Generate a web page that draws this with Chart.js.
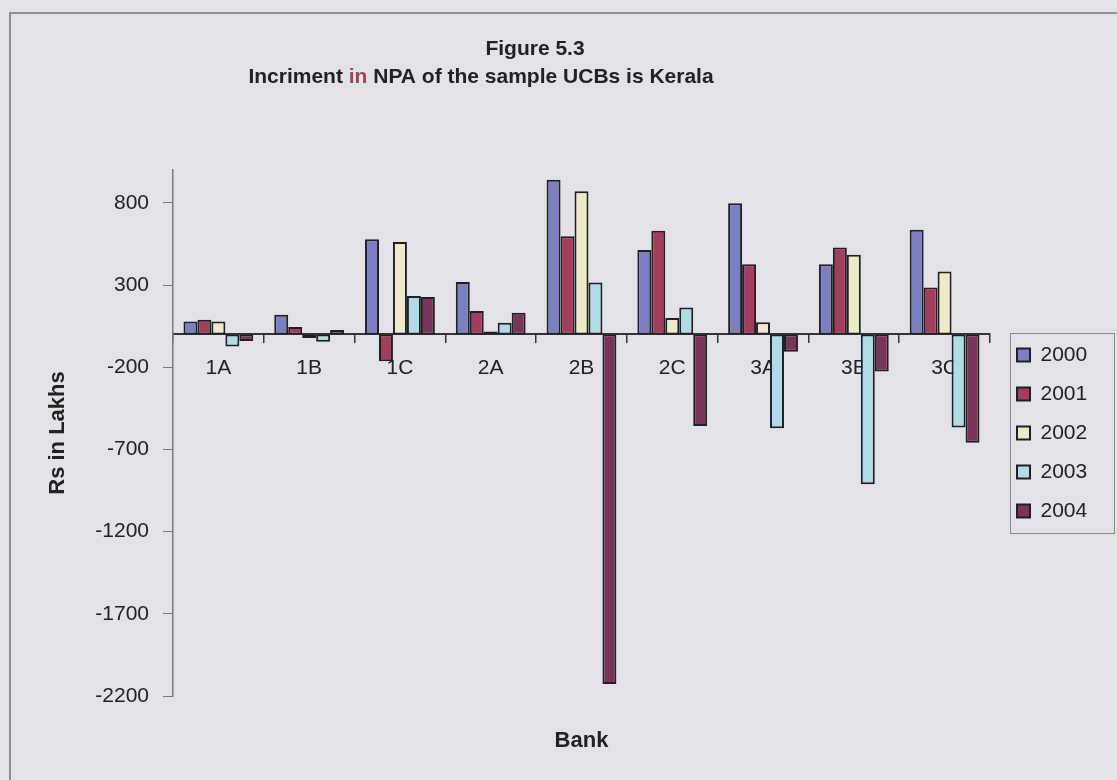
<!DOCTYPE html>
<html>
<head>
<meta charset="utf-8">
<title>Figure 5.3</title>
<script src="https://cdn.jsdelivr.net/npm/chart.js@4.4.1/dist/chart.umd.min.js"></script>
<style>
  html, body { margin: 0; padding: 0; background: #e2e2e7; }
  canvas { display: block; }
</style>
</head>
<body>
<canvas id="npaChart" width="1117" height="780"></canvas>
<script>
// Banks (categories) and years (series)
const banks = ['1A', '1B', '1C', '2A', '2B', '2C', '3A', '3B', '3C'];
const years = ['2000', '2001', '2002', '2003', '2004'];

// Increment in NPA, Rs in Lakhs
const npa2000 = [78, 120, 578, 318, 940, 514, 798, 427, 636];
const npa2001 = [89, 45, -163, 142, 597, 630, 427, 528, 285];
const npa2002 = [79, -22, 562, 18, 870, 99, 74, 484, 382];
const npa2003 = [-74, -45, 233, 71, 315, 163, -571, -912, -567];
const npa2004 = [-40, 26, 227, 132, -2127, -558, -105, -226, -659];

// Value axis labels
const yTickValues = [800, 300, -200, -700, -1200, -1700, -2200];

const seriesValues = [npa2000, npa2001, npa2002, npa2003, npa2004];
const seriesColors = ['#7b80c0', '#a23d5c', '#eeeac9', '#b0dcea', '#7a3458'];

const FONT = '"Liberation Sans", Arial, sans-serif';
const INK = '#222222';

// Paper background with the frame line
const paper = {
  id: 'paper',
  beforeDraw(chart) {
    const { ctx, width, height } = chart;
    ctx.save();
    ctx.fillStyle = '#e2e2e7';
    ctx.fillRect(0, 0, width, height);
    ctx.strokeStyle = '#8e8e93';
    ctx.lineWidth = 2;
    ctx.strokeRect(10, 13, width + 20, height + 20);
    ctx.restore();
  }
};

// Two-line heading
const heading = {
  id: 'heading',
  afterDraw(chart) {
    const ctx = chart.ctx;
    ctx.save();
    ctx.font = 'bold 21px ' + FONT;
    ctx.textBaseline = 'middle';
    ctx.textAlign = 'center';
    ctx.fillStyle = INK;
    ctx.fillText('Figure 5.3', 535, 49);
    const parts = [
      ['Incriment ', INK],
      ['in', '#9a4852'],
      [' NPA of the sample UCBs is Kerala', INK]
    ];
    const total = parts.reduce((s, p) => s + ctx.measureText(p[0]).width, 0);
    let x = 481 - total / 2;
    ctx.textAlign = 'left';
    for (const [text, color] of parts) {
      ctx.fillStyle = color;
      ctx.fillText(text, x, 77);
      x += ctx.measureText(text).width;
    }
    ctx.restore();
  }
};

// Thin frame round the legend
const legendFrame = {
  id: 'legendFrame',
  afterDraw(chart) {
    const lg = chart.legend;
    const hb = lg && lg.legendHitBoxes;
    if (!hb || !hb.length) return;
    const first = hb[0];
    const last = hb[hb.length - 1];
    const x0 = Math.round(first.left - 7) + 0.5;
    const y0 = Math.round(first.top - 11.5) + 0.5;
    const y1 = Math.round(last.top + last.height + 11.5) + 0.5;
    const x1 = Math.round(lg.right + 17) + 0.5;
    const ctx = chart.ctx;
    ctx.save();
    ctx.strokeStyle = '#8a8a8e';
    ctx.lineWidth = 1;
    ctx.strokeRect(x0, y0, x1 - x0, y1 - y0);
    ctx.restore();
  }
};

const datasets = years.map((yr, i) => ({
  label: yr,
  data: seriesValues[i],
  backgroundColor: seriesColors[i],
  borderColor: '#1f1f24',
  borderWidth: 2,
  borderSkipped: false,
  categoryPercentage: 5 / 6.5,
  barPercentage: 1.0,
  xAxisID: 'x',
  yAxisID: 'y'
}));

new Chart(document.getElementById('npaChart'), {
  type: 'bar',
  data: { labels: banks, datasets },
  plugins: [paper, heading, legendFrame],
  options: {
    responsive: false,
    animation: false,
    devicePixelRatio: 1,
    layout: { padding: { top: 170, bottom: 25.8, left: 0, right: 19.8 } },
    plugins: {
      title: { display: false },
      tooltip: { enabled: false },
      legend: {
        display: true,
        position: 'right',
        align: 'center',
        fullSize: false,
        labels: {
          boxWidth: 13,
          boxHeight: 13,
          padding: 18,
          color: INK,
          font: { family: FONT, size: 21 }
        }
      }
    },
    scales: {
      x: {
        type: 'category',
        position: { y: 0 },
        offset: true,
        grid: {
          display: true,
          offset: true,
          drawOnChartArea: false,
          drawTicks: true,
          tickLength: 8,
          color: '#333338',
          lineWidth: 1.5
        },
        border: { display: true, color: '#333338', width: 2 },
        ticks: {
          autoSkip: false,
          maxRotation: 0,
          padding: 13,
          color: INK,
          font: { family: FONT, size: 21 }
        }
      },
      xTitle: {
        type: 'category',
        position: 'bottom',
        grid: { display: false, drawTicks: false },
        border: { display: false },
        ticks: { display: false },
        title: {
          display: true,
          text: 'Bank',
          color: INK,
          font: { family: FONT, size: 22, weight: 'bold' },
          padding: { top: 31.8, bottom: 0 }
        }
      },
      y: {
        type: 'linear',
        position: 'left',
        min: -2200,
        max: 1000,
        afterBuildTicks: (scale) => {
          scale.ticks = yTickValues.map(v => ({ value: v }));
        },
        afterFit: (scale) => { scale.width = 173; },
        grid: {
          display: true,
          drawOnChartArea: false,
          drawTicks: true,
          tickLength: 10,
          color: '#7a7a80',
          lineWidth: 1
        },
        border: { display: true, color: '#7a7a80', width: 1.5 },
        ticks: {
          padding: 14,
          color: INK,
          font: { family: FONT, size: 21 },
          callback: (value) => String(value)
        },
        title: {
          display: true,
          text: 'Rs in Lakhs',
          color: INK,
          font: { family: FONT, size: 22, weight: 'bold' },
          padding: { top: 44.8, bottom: 0 }
        }
      },
      yGap: {
        type: 'linear',
        position: 'right',
        display: true,
        grid: { display: false, drawTicks: false },
        border: { display: false },
        ticks: { display: false },
        afterFit: (scale) => { scale.width = 9; }
      }
    }
  }
});
</script>
</body>
</html>
